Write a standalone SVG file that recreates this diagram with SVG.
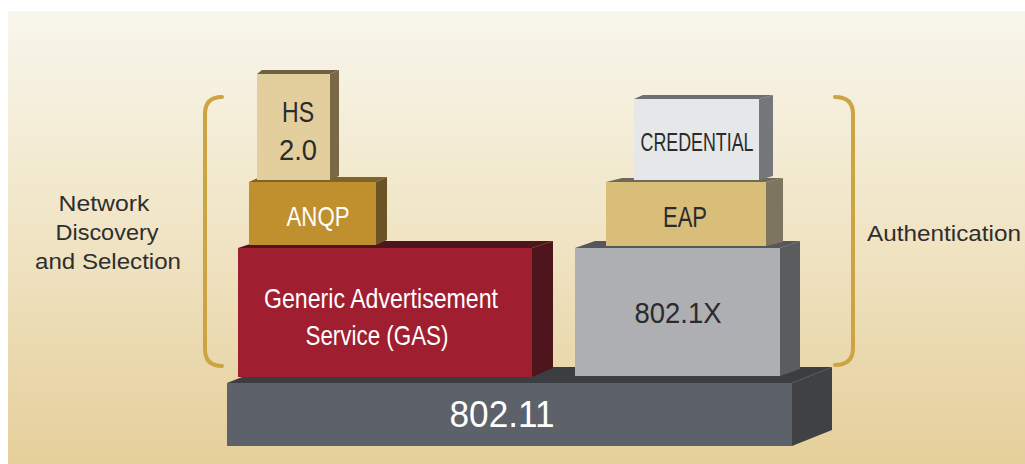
<svg xmlns="http://www.w3.org/2000/svg" width="1025" height="464" viewBox="0 0 1025 464">
  <defs>
    <linearGradient id="bg" x1="0" y1="0" x2="0" y2="1">
      <stop offset="0" stop-color="#f8f6ec"/>
      <stop offset="0.5" stop-color="#f0e4c4"/>
      <stop offset="1" stop-color="#e5cf9b"/>
    </linearGradient>
  </defs>
  <style>
    .cond { font-family: "Liberation Sans Narrow", "Liberation Sans", Arial, sans-serif; text-anchor: middle; }
    .lbl { font-family: "Liberation Sans", Arial, sans-serif; font-size: 22px; fill: #2e2e2e; text-anchor: middle; }
    .dark { fill: #2b2b2b; }
    .light { fill: #ffffff; }
    .brace { fill: none; stroke: #cda442; stroke-width: 4; stroke-linecap: round; }
  </style>
  <rect x="0" y="0" width="1025" height="464" fill="#ffffff"/>
  <rect x="8" y="11" width="1017" height="453" fill="url(#bg)"/>

  <g id="node-80211">
    <polygon points="227,383 267,367 832,367 792,383" fill="#3b3d41"/>
    <polygon points="792,383 832,367 832,430 792,446" fill="#3f4145"/>
    <rect x="227" y="383" width="565" height="63" fill="#5d6169"/>
    <text class="cond light" x="502" y="427" font-size="36" textLength="105" lengthAdjust="spacingAndGlyphs">802.11</text>
  </g>

  <g id="node-gas">
    <polygon points="238,248 259,241 553,241 532,248" fill="#4e151c"/>
    <polygon points="532,248 553,241 553,368 532,377" fill="#4e151c"/>
    <rect x="238" y="248" width="294" height="129" fill="#9f1e30"/>
    <text class="cond light" x="381" y="308" font-size="28" textLength="234" lengthAdjust="spacingAndGlyphs">Generic Advertisement</text>
    <text class="cond light" x="377" y="345" font-size="28" textLength="143" lengthAdjust="spacingAndGlyphs">Service (GAS)</text>
  </g>

  <g id="node-8021x">
    <polygon points="575,248 595,241 800,241 780,248" fill="#55575a"/>
    <polygon points="780,248 800,241 800,369 780,376" fill="#5b5c5f"/>
    <rect x="575" y="248" width="205" height="128" fill="#aeafb3"/>
    <text class="cond dark" x="678" y="323" font-size="30" textLength="87" lengthAdjust="spacingAndGlyphs">802.1X</text>
  </g>

  <g id="node-anqp">
    <polygon points="249,182 260,177 387,177 376,182" fill="#7e6428"/>
    <polygon points="376,182 387,177 387,240 376,245" fill="#6b5424"/>
    <rect x="249" y="182" width="127" height="63" fill="#c08f2e"/>
    <text class="cond light" x="318" y="226" font-size="28" textLength="63" lengthAdjust="spacingAndGlyphs">ANQP</text>
  </g>

  <g id="node-eap">
    <polygon points="606,182 622,178 783,178 766,182" fill="#6f6a5a"/>
    <polygon points="766,182 783,178 783,242 766,246" fill="#7d7560"/>
    <rect x="606" y="182" width="160" height="64" fill="#d9be7a"/>
    <text class="cond dark" x="685" y="227" font-size="29" textLength="44" lengthAdjust="spacingAndGlyphs">EAP</text>
  </g>

  <g id="node-hs20">
    <polygon points="257,74 262,70 339,70 330,74" fill="#6e6143"/>
    <polygon points="330,74 339,70 339,176 330,180" fill="#786845"/>
    <rect x="257" y="74" width="73" height="106" fill="#e3cf9d"/>
    <text class="cond dark" x="298" y="122" font-size="29" textLength="32" lengthAdjust="spacingAndGlyphs">HS</text>
    <text class="cond dark" x="298" y="160" font-size="29" textLength="38" lengthAdjust="spacingAndGlyphs">2.0</text>
  </g>

  <g id="node-credential">
    <polygon points="634,99 643,95 773,95 759,99" fill="#6d6f72"/>
    <polygon points="759,99 773,95 773,176 759,180" fill="#75777a"/>
    <rect x="634" y="99" width="125" height="81" fill="#e6e7e8"/>
    <text class="cond dark" x="697" y="151" font-size="25" textLength="113" lengthAdjust="spacingAndGlyphs">CREDENTIAL</text>
  </g>

  <g id="connectors">
    <path class="brace" d="M222,97 Q205,97 205,114 L205,349 Q205,366 222,366"/>
    <path class="brace" d="M835,97 Q853,97 853,114 L853,348 Q853,365 835,365"/>
  </g>

  <g id="label-discovery">
    <text class="lbl" x="104" y="211" textLength="91" lengthAdjust="spacingAndGlyphs">Network</text>
    <text class="lbl" x="107" y="240" textLength="103" lengthAdjust="spacingAndGlyphs">Discovery</text>
    <text class="lbl" x="108" y="269" textLength="146" lengthAdjust="spacingAndGlyphs">and Selection</text>
  </g>

  <g id="label-authentication">
    <text class="lbl" x="944" y="241" textLength="154" lengthAdjust="spacingAndGlyphs">Authentication</text>
  </g>
</svg>
